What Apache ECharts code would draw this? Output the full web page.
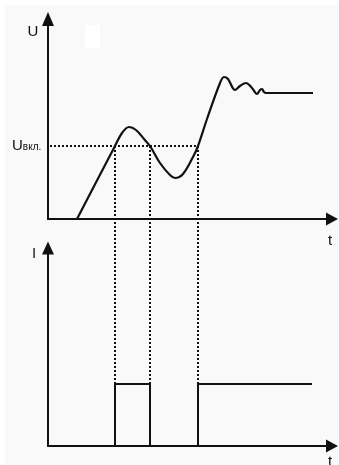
<!DOCTYPE html>
<html>
<head>
<meta charset="utf-8">
<script src="https://cdn.jsdelivr.net/npm/echarts@6/dist/echarts.min.js"></script>
<style>
  html, body { margin: 0; padding: 0; background: #f9f9f9; }
  #chart { width: 339px; height: 465px; }
</style>
</head>
<body>
<div id="chart"></div>
<script>
// Relay switching diagram: input voltage U(t) and output current I(t).
const tMax = 284;          // time axis span
const uMax = 200;          // voltage axis span
const iMax = 198;          // current axis span

// Switching threshold U вкл.
const uOn = 73;

// Voltage transient: rise, overshoot, dip, second rise with damped ringing
const uCurve = [
  [29, 0], [67, 73], [74, 86], [81, 92], [88, 89], [96, 80], [102, 73],
  [112, 56], [122, 44], [127, 41], [135, 45], [145, 62], [150, 73],
  [159, 100], [172, 136], [176, 142], [180, 140], [187, 129], [192, 133],
  [198, 136], [204, 131], [209, 125], [212, 129], [214, 130], [216, 127],
  [218, 126], [265, 126]
];

// Moments where U crosses the threshold (relay on / off / on)
const switchTimes = [67, 102, 150];
const iOnLevel = 62;
const iEnd = 264;

// Output current: pulse while U above threshold
const iCurve = [
  [switchTimes[0], 0], [switchTimes[0], iOnLevel], [switchTimes[1], iOnLevel], [switchTimes[1], 0],
  [switchTimes[2], 0], [switchTimes[2], iOnLevel], [iEnd, iOnLevel]
];

const ink = '#111111';
const dotted = [2, 2];
const font = 'Liberation Sans, Arial, sans-serif';

const chart = echarts.init(document.getElementById('chart'), null, { renderer: 'canvas' });

function axisLineStyle(size) {
  return {
    show: true,
    onZero: false,
    symbol: ['none', 'triangle'],
    symbolSize: size,
    lineStyle: { color: ink, width: 2 }
  };
}

const hidden = { axisTick: { show: false }, axisLabel: { show: false }, splitLine: { show: false } };

chart.setOption({
  animation: false,
  backgroundColor: '#f9f9f9',
  grid: [
    { left: 48, right: 7, top: 19, bottom: 246 },
    { left: 48, right: 7, top: 248, bottom: 19 }
  ],
  xAxis: [
    Object.assign({ type: 'value', gridIndex: 0, min: 0, max: tMax, axisLine: axisLineStyle([13, 12]) }, hidden),
    Object.assign({ type: 'value', gridIndex: 1, min: 0, max: tMax, axisLine: axisLineStyle([13, 12]) }, hidden)
  ],
  yAxis: [
    Object.assign({ type: 'value', gridIndex: 0, min: 0, max: uMax, axisLine: axisLineStyle([12, 14]) }, hidden),
    Object.assign({ type: 'value', gridIndex: 1, min: 0, max: iMax, axisLine: axisLineStyle([12, 13]) }, hidden)
  ],
  series: [
    {
      name: 'Uвкл.',
      type: 'line',
      xAxisIndex: 0, yAxisIndex: 0,
      data: [[2, uOn], [switchTimes[2], uOn]],
      symbol: 'none',
      lineStyle: { color: ink, width: 2, type: dotted },
      z: 1
    },
    {
      name: 'U',
      type: 'line',
      xAxisIndex: 0, yAxisIndex: 0,
      data: uCurve,
      smooth: 0.35,
      symbol: 'none',
      lineStyle: { color: ink, width: 2.2 },
      z: 3
    },
    {
      name: 'I',
      type: 'line',
      xAxisIndex: 1, yAxisIndex: 1,
      data: iCurve,
      symbol: 'none',
      lineStyle: { color: ink, width: 2, join: 'miter' },
      z: 3
    }
  ]
});

// Guides from each threshold crossing down to the matching current edge
const guides = switchTimes.map(function (t) {
  const top = chart.convertToPixel({ xAxisIndex: 0, yAxisIndex: 0 }, [t, uOn]);
  const bottom = chart.convertToPixel({ xAxisIndex: 1, yAxisIndex: 1 }, [t, iOnLevel]);
  const x = Math.round(top[0]);
  return {
    type: 'line',
    shape: { x1: x, y1: top[1], x2: x, y2: bottom[1] },
    style: { stroke: ink, lineWidth: 2, lineDash: dotted },
    z: 1
  };
});

const thrPx = chart.convertToPixel({ xAxisIndex: 0, yAxisIndex: 0 }, [0, uOn]);

chart.setOption({
  graphic: [
    { type: 'rect', shape: { x: 0, y: 0, width: 339, height: 5 }, style: { fill: '#ffffff' }, z: 0, silent: true },
    { type: 'rect', shape: { x: 0, y: 0, width: 5, height: 465 }, style: { fill: '#ffffff' }, z: 0, silent: true },
    { type: 'rect', shape: { x: 85, y: 25, width: 15, height: 23 }, style: { fill: '#ffffff' }, z: 0, silent: true },
    ...guides,
    { type: 'text', x: 33, y: 32, style: { text: 'U', font: '15px ' + font, fill: ink, align: 'center', verticalAlign: 'middle' } },
    { type: 'text', x: 34, y: 254, style: { text: 'I', font: '15px ' + font, fill: ink, align: 'center', verticalAlign: 'middle' } },
    { type: 'text', x: 330, y: 241, style: { text: 't', font: '15px ' + font, fill: ink, align: 'center', verticalAlign: 'middle' } },
    { type: 'text', x: 330, y: 462, style: { text: 't', font: '15px ' + font, fill: ink, align: 'center', verticalAlign: 'middle' } },
    {
      type: 'text', x: 12, y: thrPx[1],
      style: {
        text: '{a|U}{b|вкл.}',
        verticalAlign: 'middle',
        rich: {
          a: { font: '15px ' + font, fill: ink, verticalAlign: 'bottom' },
          b: { font: '10px ' + font, fill: ink, verticalAlign: 'bottom', padding: [0, 0, 1, 0] }
        }
      }
    }
  ]
});
</script>
</body>
</html>
